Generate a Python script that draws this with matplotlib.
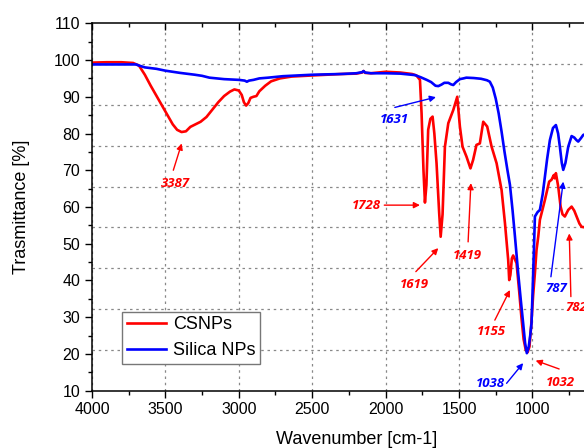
import numpy as np
import matplotlib.pyplot as plt
from matplotlib.ticker import MultipleLocator

plt.rcParams['font.family'] = ['Liberation Sans', 'DejaVu Sans']

# CSNPs spectrum (wavenumber, transmittance)
csnps_wn = [4000, 3900, 3800, 3720, 3680, 3640, 3600, 3550, 3500, 3450, 3420, 3390,
            3360, 3330, 3300, 3260, 3220, 3180, 3140, 3100, 3060, 3030, 3000, 2980,
            2965, 2950, 2935, 2920, 2900, 2880, 2860, 2820, 2780, 2720, 2640, 2500,
            2400, 2300, 2200, 2160, 2150, 2140, 2100, 2000, 1900, 1820, 1790, 1766,
            1755, 1742, 1732, 1722, 1710, 1695, 1680, 1668, 1653, 1635, 1625, 1612,
            1596, 1573, 1539, 1512, 1494, 1476, 1449, 1422, 1404, 1381, 1358, 1335,
            1308, 1278, 1244, 1210, 1187, 1165, 1158, 1150, 1140, 1131, 1120, 1108,
            1090, 1075, 1060, 1045, 1032, 1020, 1008, 995, 983, 972, 960, 949,
            930, 915, 900, 886, 870, 854, 848, 840, 824, 808, 795, 779,
            756, 733, 715, 699, 680, 665, 650, 620]
csnps_t = [99.3, 99.4, 99.4, 99.2, 98.5, 96.0, 93.0, 89.5, 86.0, 82.5, 81.0, 80.4,
           80.6, 81.8, 82.4, 83.2, 84.5, 86.5, 88.5, 90.2, 91.4, 92.0, 91.7, 90.5,
           88.5, 87.6, 88.3, 89.7, 90.0, 90.2, 91.5, 93.0, 94.2, 95.0, 95.5, 95.8,
           96.0, 96.2, 96.3, 96.6, 97.0, 96.5, 96.4, 96.8, 96.6, 96.2, 95.8, 94.6,
           85.5, 70.0, 61.2, 66.0, 81.0, 84.0, 84.6, 80.0, 71.9, 58.3, 51.9, 58.0,
           76.4, 82.8, 86.4, 90.0, 81.9, 76.4, 73.7, 70.5, 72.8, 76.9, 77.3, 83.2,
           81.9, 76.4, 71.9, 64.6, 55.6, 45.6, 40.1, 41.5, 46.0, 46.8, 45.8, 44.7,
           37.0, 30.0, 24.0, 21.0, 20.5, 22.0, 28.0, 36.0, 42.0, 48.3, 52.0, 56.5,
           59.5, 61.9, 64.5, 66.9, 67.4, 68.7, 67.8, 69.2, 65.5, 60.1, 58.0, 57.4,
           59.2, 60.1, 59.0, 57.4, 55.5, 54.6, 54.5, 54.0]

# Silica NPs spectrum
silica_wn = [4000, 3800, 3700, 3680, 3640, 3560, 3500, 3400, 3300, 3250, 3200, 3100,
             3000, 2960, 2945, 2930, 2900, 2860, 2800, 2700, 2600, 2500, 2400, 2300,
             2200, 2160, 2150, 2140, 2100, 2000, 1900, 1800, 1760, 1720, 1690, 1660,
             1641, 1620, 1600, 1573, 1555, 1539, 1520, 1494, 1470, 1450, 1400, 1350,
             1310, 1290, 1270, 1250, 1230, 1210, 1190, 1170, 1153, 1135, 1119, 1097,
             1080, 1063, 1050, 1038, 1025, 1015, 1006, 998, 990, 983, 965, 949,
             930, 915, 900, 881, 860, 840, 825, 813, 800, 790, 775, 756,
             733, 715, 700, 688, 670, 654, 630]
silica_t = [98.8, 98.8, 98.8, 98.5, 98.0, 97.6, 97.1, 96.5, 96.0, 95.7, 95.2, 94.8,
            94.6, 94.4, 94.1, 94.4, 94.6, 95.0, 95.2, 95.6, 95.8, 96.0, 96.1, 96.2,
            96.4, 96.7, 97.0, 96.6, 96.4, 96.4, 96.3, 95.9, 95.3, 94.6, 94.0, 93.0,
            92.9, 93.3, 93.8, 93.8, 93.4, 93.2, 94.0, 94.8, 95.0, 95.2, 95.1, 94.9,
            94.5, 94.1, 92.5, 89.5, 85.5, 80.5, 75.0, 70.0, 66.0, 59.0, 52.0, 42.0,
            35.0, 28.3, 23.0, 20.2, 22.0, 25.0, 28.3, 38.0, 48.0, 57.4, 58.6, 59.2,
            63.5, 68.2, 73.0, 78.2, 81.5, 82.3, 80.0, 76.4, 72.0, 70.1, 72.0, 76.4,
            79.3, 78.9, 78.2, 77.8, 78.7, 79.6, 80.0]

# peak labels: text, text position, arrow tail, arrow head, colour
peak_labels = ['3387', '1631', '1728', '1619', '1419', '1155', '1038', '1032', '787', '782']
label_pos = [(3434, 66.5), (1941, 83.7), (2134, 60.3), (1805, 39.0), (1442, 46.9),
             (1278, 26.2), (1290, 12.0), (813, 12.3), (836, 37.9), (700, 32.6)]
arrow_tail = [(3446, 70.0), (1937, 87.1), (2009, 60.5), (1794, 42.4), (1438, 50.5),
              (1256, 29.2), (1176, 12.0), (818, 15.9), (874, 41.0), (738, 35.6)]
arrow_head = [(3389, 77.3), (1657, 89.9), (1766, 60.5), (1641, 48.8), (1419, 66.5),
              (1153, 37.4), (1063, 17.5), (978, 18.2), (790, 66.9), (749, 52.8)]
label_colors = ['red', 'blue', 'red', 'red', 'red', 'red', 'blue', 'red', 'blue', 'red']

fig = plt.figure(figsize=(5.84, 4.48), dpi=100)
ax = fig.add_axes([0.1575, 0.128, 0.905, 0.82])

for yv in np.linspace(10, 110, 10)[1:-1]:
    ax.axhline(yv, color='#888888', ls=(0, (2, 3)), lw=0.9, zorder=0)
ax.grid(axis='x', color='#888888', ls=(0, (2, 3)), lw=0.9, zorder=0)

ax.plot(csnps_wn, csnps_t, color='red', lw=1.9, label='CSNPs')
ax.plot(silica_wn, silica_t, color='blue', lw=1.9, label='Silica NPs')

for txt, pos, tail, head, col in zip(peak_labels, label_pos, arrow_tail, arrow_head, label_colors):
    ax.annotate('', xy=head, xytext=tail,
                arrowprops=dict(arrowstyle='-|>', color=col, lw=1.0,
                                mutation_scale=9, shrinkA=0, shrinkB=0))
    ax.text(pos[0], pos[1], txt, color=col, fontsize=9.5, fontweight='bold',
            fontstyle='italic', ha='center', va='center', family=['Open Sans', 'DejaVu Sans'])

ax.set_xlim(4000, 400)
ax.set_ylim(10, 110)
ax.xaxis.set_major_locator(MultipleLocator(500))
ax.xaxis.set_minor_locator(MultipleLocator(250))
ax.yaxis.set_major_locator(MultipleLocator(10))
ax.yaxis.set_minor_locator(MultipleLocator(5))
ax.tick_params(axis='both', which='major', labelsize=11.5, length=5, width=1, direction='out')
ax.tick_params(axis='both', which='minor', length=3, width=1, direction='out')
ax.tick_params(axis='x', which='both', top=True, labeltop=False)
for t in ax.xaxis.get_major_ticks() + ax.xaxis.get_minor_ticks():
    t.tick2line.set_marker(3)
for sp in ax.spines.values():
    sp.set_linewidth(1.1)

ax.set_xlabel('Wavenumber [cm-1]', fontsize=13, labelpad=10)
ax.set_ylabel('Trasmittance [%]', fontsize=13, labelpad=17)

ax.legend(loc='lower left', bbox_to_anchor=(0.057, 0.073), fontsize=13,
          fancybox=False, edgecolor='#777777', framealpha=1, handlelength=2.2,
          handletextpad=0.35, borderpad=0.25, labelspacing=0.5, borderaxespad=0)

fig.savefig('out.png', dpi=100)
